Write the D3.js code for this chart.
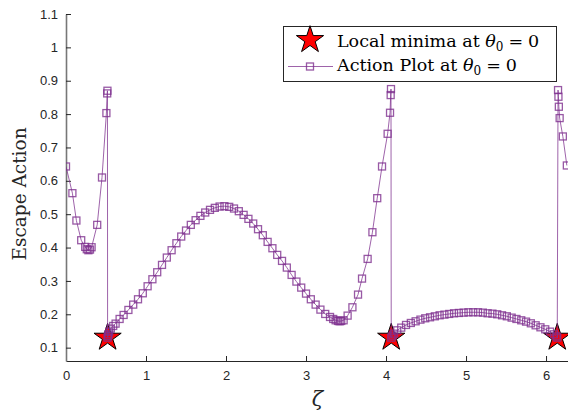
<!DOCTYPE html>
<html><head><meta charset="utf-8">
<script src="https://cdn.jsdelivr.net/npm/d3@7"></script>
<style>body{margin:0;background:#fff}svg{display:block}</style>
</head><body>
<script>
// ---- data ----
const zeta = [0, 0.08, 0.13, 0.19, 0.24, 0.26, 0.28, 0.30, 0.32, 0.39, 0.45, 0.505, 0.515, 0.518,
  0.52, 0.525, 0.53, 0.54, 0.56, 0.59, 0.62, 0.67, 0.72, 0.78, 0.84, 0.90, 0.96, 1.02, 1.08, 1.14,
  1.20, 1.26, 1.32, 1.38, 1.44, 1.50, 1.56, 1.62, 1.68, 1.74, 1.80, 1.86, 1.92, 1.98, 2.04, 2.10,
  2.16, 2.22, 2.28, 2.34, 2.40, 2.46, 2.52, 2.58, 2.64, 2.70, 2.76, 2.82, 2.88, 2.94, 3.00, 3.06,
  3.12, 3.18, 3.24, 3.30, 3.34, 3.37, 3.40, 3.42, 3.44, 3.47, 3.52, 3.58, 3.65, 3.70, 3.77, 3.83,
  3.89, 3.95, 4.02, 4.05, 4.058, 4.062,
  4.065, 4.08, 4.10, 4.14, 4.19, 4.25, 4.31, 4.37, 4.43, 4.49, 4.55, 4.61, 4.67, 4.73, 4.79, 4.85,
  4.91, 4.97, 5.03, 5.09, 5.15, 5.21, 5.27, 5.33, 5.39, 5.45, 5.51, 5.57, 5.63, 5.69, 5.75, 5.81,
  5.87, 5.93, 5.99, 6.05, 6.10, 6.13, 6.14,
  6.15, 6.155, 6.16, 6.17, 6.21, 6.26];
const action = [0.643, 0.563, 0.481, 0.422, 0.402, 0.395, 0.392, 0.394, 0.401, 0.468, 0.61, 0.803, 0.862, 0.870,
  0.13, 0.135, 0.14, 0.148, 0.157, 0.165, 0.172, 0.186, 0.198, 0.213, 0.229, 0.245, 0.263, 0.284, 0.305, 0.326,
  0.348, 0.370, 0.392, 0.413, 0.433, 0.451, 0.468, 0.482, 0.495, 0.505, 0.513, 0.519, 0.523, 0.524, 0.522, 0.517,
  0.509, 0.498, 0.486, 0.472, 0.455, 0.437, 0.417, 0.398, 0.378, 0.360, 0.340, 0.318, 0.298, 0.280, 0.262, 0.245,
  0.229, 0.214, 0.201, 0.192, 0.186, 0.182, 0.180, 0.179, 0.180, 0.182, 0.196, 0.221, 0.259, 0.307, 0.366, 0.446,
  0.548, 0.643, 0.741, 0.804, 0.857, 0.875,
  0.13, 0.136, 0.142, 0.152, 0.160, 0.168, 0.174, 0.179, 0.184, 0.188, 0.191, 0.194, 0.197, 0.199, 0.201, 0.203,
  0.204, 0.205, 0.206, 0.206, 0.206, 0.205, 0.203, 0.202, 0.200, 0.197, 0.194, 0.190, 0.186, 0.182, 0.178, 0.173,
  0.167, 0.161, 0.155, 0.148, 0.140, 0.134, 0.13,
  0.872, 0.852, 0.822, 0.788, 0.733, 0.646];
const minZeta = [0.52, 4.065, 6.14];
const minAction = [0.13, 0.13, 0.13];
const xTicks = [0, 1, 2, 3, 4, 5, 6];
const yTicks = [0.1, 0.2, 0.3, 0.4, 0.5, 0.6, 0.7, 0.8, 0.9, 1, 1.1];

// ---- layout ----
const W = 568, H = 411;
const L = 66, R = 568.7, T = 14, B = 361;
const purple = "#7E2F8E";
const serif = "DejaVu Serif, serif";
const svg = d3.select("body").append("svg").attr("width", W).attr("height", H);
const x = d3.scaleLinear().domain([0, 2 * Math.PI]).range([L, R]);
const y = d3.scaleLinear().domain([0.06, 1.1]).range([B, T]);

svg.append("defs").append("clipPath").attr("id", "clip")
  .append("rect").attr("x", L).attr("y", T - 10).attr("width", R - L).attr("height", B - T + 10);

// axes
const xAxis = d3.axisBottom(x).tickValues(xTicks).tickFormat(d3.format("d")).tickSizeInner(-5).tickSizeOuter(0).tickPadding(10);
const yAxis = d3.axisLeft(y).tickValues(yTicks).tickFormat(d => d3.format("~g")(d)).tickSizeInner(-5).tickSizeOuter(0).tickPadding(8);
const gx = svg.append("g").attr("transform", `translate(0,${B})`).call(xAxis);
const gy = svg.append("g").attr("transform", `translate(${L},0)`).call(yAxis);
[gx, gy].forEach(g => {
  g.selectAll("text").attr("font-family", "Liberation Sans, Arial, sans-serif").attr("font-size", 13).attr("fill", "#262626");
  g.selectAll("line").attr("stroke", "#262626");
  g.select(".domain").attr("stroke", "#262626");
});
gy.select(".domain").attr("stroke", "#777").attr("stroke-width", 1.6);

const plot = svg.append("g").attr("clip-path", "url(#clip)");
const pts = zeta.map((z, i) => [z, action[i]]);

// stars
const star = d3.symbol().type(d3.symbolStar).size(230);
plot.selectAll("path.star").data(minZeta).join("path").attr("class", "star")
  .attr("d", star).attr("transform", (d, i) => `translate(${x(d)},${y(minAction[i])})`)
  .attr("fill", "#FF0000").attr("stroke", "#000").attr("stroke-width", 1);

// line
plot.append("path").datum(pts)
  .attr("d", d3.line().x(d => x(d[0])).y(d => y(d[1])))
  .attr("fill", "none").attr("stroke", purple).attr("stroke-opacity", 0.75).attr("stroke-width", 1);
// markers
const ms = 7;
plot.selectAll("rect.m").data(pts).join("rect").attr("class", "m")
  .attr("x", d => x(d[0]) - ms / 2).attr("y", d => y(d[1]) - ms / 2)
  .attr("width", ms).attr("height", ms)
  .attr("fill", "none").attr("stroke", purple).attr("stroke-opacity", 0.8).attr("stroke-width", 1.3);

// labels
svg.append("text").attr("transform", `translate(26,${194}) rotate(-90)`)
  .attr("text-anchor", "middle").attr("font-family", serif).attr("font-size", 18.5)
  .attr("fill", "#262626").text("Escape Action");
svg.append("text").attr("x", (L + R) / 2).attr("y", 406).attr("text-anchor", "middle")
  .attr("font-family", serif).attr("font-style", "italic").attr("font-size", 21)
  .attr("fill", "#262626").text("ζ");

// legend
const lg = svg.append("g");
lg.append("rect").attr("x", 283.5).attr("y", 26.5).attr("width", 273).attr("height", 55)
  .attr("fill", "#fff").attr("stroke", "#262626").attr("stroke-width", 1);
lg.append("path").attr("d", star).attr("transform", "translate(310,40)")
  .attr("fill", "#FF0000").attr("stroke", "#000");
lg.append("line").attr("x1", 288).attr("x2", 333).attr("y1", 66.5).attr("y2", 66.5)
  .attr("stroke", purple).attr("stroke-opacity", 0.75);
lg.append("rect").attr("x", 310 - 3.5).attr("y", 66.5 - 3.5).attr("width", 7).attr("height", 7)
  .attr("fill", "none").attr("stroke", purple).attr("stroke-width", 1.3).attr("stroke-opacity", 0.8);
const labels = ["Local minima at ", "Action Plot at "];
labels.forEach((t, i) => {
  const tx = lg.append("text").attr("x", 337).attr("y", 47 + i * 24)
    .attr("font-family", serif).attr("font-size", 17.5).attr("fill", "#000");
  tx.append("tspan").text(t);
  tx.append("tspan").attr("font-style", "italic").text("θ");
  tx.append("tspan").attr("font-size", 12).attr("dy", 4).text("0");
  tx.append("tspan").attr("dy", -4).attr("dx", 5).text("=");
  tx.append("tspan").attr("dx", 5).text("0");
});
</script>
</body></html>
